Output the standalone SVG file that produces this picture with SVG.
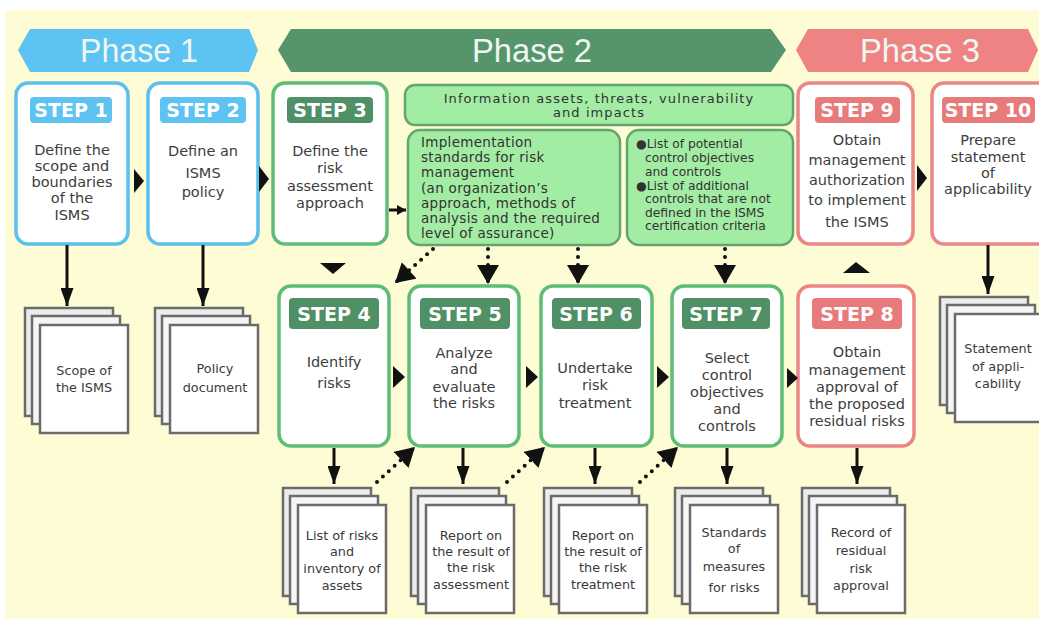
<svg xmlns="http://www.w3.org/2000/svg" width="1039" height="619" viewBox="0 0 1039 619">
<style>
.bg{fill:#fefcd5}
.ph{font-family:"Liberation Sans",Arial,sans-serif;font-size:34px;fill:#eef7f2;text-anchor:middle}
.box{fill:#fff;stroke-width:3.5}
.b-blue{stroke:#5bc0ec}
.b-green{stroke:#5dbd74}
.b-pink{stroke:#e98686}
.l-blue{fill:#5ec3f1}
.l-green{fill:#4f9067}
.l-pink{fill:#e77b7b}
.lbl{font-family:"DejaVu Sans",sans-serif;font-weight:bold;font-size:19px;fill:#fff;text-anchor:middle}
.st{font-family:"DejaVu Sans",sans-serif;font-size:14.5px;fill:#3d3d3d;text-anchor:middle}
.info{fill:#a3eca3;stroke:#62a56f;stroke-width:2.5}
.inf{font-family:"DejaVu Sans",sans-serif;font-size:13px;fill:#333;text-anchor:middle;letter-spacing:1.1px}
.it{font-family:"DejaVu Sans",sans-serif;font-size:13.5px;fill:#333;letter-spacing:0.3px}
.ct{font-family:"DejaVu Sans",sans-serif;font-size:12.3px;fill:#333}
.pg{stroke:#6b6b6b;stroke-width:2.5}
.dt{font-family:"DejaVu Sans",sans-serif;font-size:12.8px;fill:#3a3a3a;text-anchor:middle}
.solid{stroke:#111;stroke-width:3;fill:none}
.dot{stroke:#111;stroke-width:4;fill:none;stroke-dasharray:0 8;stroke-linecap:round}
.tri{fill:#111}
</style>
<defs>
<marker id="ah" markerUnits="userSpaceOnUse" viewBox="0 0 18 13" refX="18" refY="6.5" markerWidth="18" markerHeight="13" orient="auto"><path d="M0,0 L18,6.5 L0,13 z" fill="#111"/></marker>
<marker id="ahb" markerUnits="userSpaceOnUse" viewBox="0 0 19 22" refX="19" refY="11" markerWidth="19" markerHeight="22" orient="auto"><path d="M0,0 L19,11 L0,22 z" fill="#111"/></marker>
<marker id="ahs" markerUnits="userSpaceOnUse" viewBox="0 0 9 10" refX="9" refY="5" markerWidth="9" markerHeight="10" orient="auto"><path d="M0,0 L9,5 L0,10 z" fill="#111"/></marker>
<g id="pages">
<rect class="pg" x="0" y="0" width="88" height="108" fill="#ececec"/>
<rect class="pg" x="7" y="8" width="88" height="108" fill="#f5f5f5"/>
<rect class="pg" x="15" y="17" width="88" height="108" fill="#ffffff"/>
</g>
</defs>

<rect x="0" y="0" width="1039" height="619" fill="#ffffff"/>
<rect class="bg" x="5" y="10" width="1034" height="609"/>

<g id="phase1">
<polygon points="18,50 30,29 249,29 258,50 249,72 30,72" fill="#5cc3f2"/>
<text class="ph" x="139" y="62" textLength="118" lengthAdjust="spacingAndGlyphs">Phase 1</text>
</g>
<g id="phase2">
<polygon points="278,50 291,29 771,29 786,50 771,72 291,72" fill="#56956b"/>
<text class="ph" x="532" y="62" textLength="120" lengthAdjust="spacingAndGlyphs">Phase 2</text>
</g>
<g id="phase3">
<polygon points="796,50 808,29 1028,29 1038,50 1028,72 808,72" fill="#ef8383"/>
<text class="ph" x="920" y="62" textLength="120" lengthAdjust="spacingAndGlyphs">Phase 3</text>
</g>

<g id="step1">
<rect class="box b-blue" x="16" y="83" width="112" height="161" rx="12"/>
<rect class="l-blue" x="30" y="97" width="82" height="26" rx="4"/>
<text class="lbl" x="71" y="117">STEP 1</text>
<text class="st"><tspan x="72" y="155">Define the</tspan><tspan x="72" y="171">scope and</tspan><tspan x="72" y="187">boundaries</tspan><tspan x="72" y="203">of the</tspan><tspan x="72" y="220">ISMS</tspan></text>
</g>
<g id="step2">
<rect class="box b-blue" x="148" y="83" width="110" height="161" rx="12"/>
<rect class="l-blue" x="160" y="97" width="86" height="26" rx="4"/>
<text class="lbl" x="203" y="117">STEP 2</text>
<text class="st"><tspan x="203" y="156">Define an</tspan><tspan x="203" y="178">ISMS</tspan><tspan x="203" y="197">policy</tspan></text>
</g>
<g id="step3">
<rect class="box b-green" x="273" y="83" width="114" height="161" rx="12"/>
<rect class="l-green" x="287" y="97" width="86" height="26" rx="4"/>
<text class="lbl" x="330" y="117">STEP 3</text>
<text class="st"><tspan x="330" y="156">Define the</tspan><tspan x="330" y="173">risk</tspan><tspan x="330" y="191">assessment</tspan><tspan x="330" y="208">approach</tspan></text>
</g>

<g id="info-assets">
<rect class="info" x="405" y="85" width="388" height="40" rx="10"/>
<text class="inf"><tspan x="599" y="103">Information assets, threats, vulnerability</tspan><tspan x="599" y="117">and impacts</tspan></text>
</g>
<g id="impl-standards">
<rect class="info" x="408" y="130" width="212" height="115" rx="12"/>
<text class="it"><tspan x="421" y="147">Implementation</tspan><tspan x="421" y="162">standards for risk</tspan><tspan x="421" y="177">management</tspan><tspan x="421" y="193">(an organization’s</tspan><tspan x="421" y="208">approach, methods of</tspan><tspan x="421" y="223">analysis and the required</tspan><tspan x="421" y="238">level of assurance)</tspan></text>
</g>
<g id="control-lists">
<rect class="info" x="627" y="130" width="166" height="115" rx="12"/>
<text class="ct"><tspan x="636" y="148">●List of potential</tspan><tspan x="645" y="162">control objectives</tspan><tspan x="645" y="176">and controls</tspan><tspan x="636" y="190">●List of additional</tspan><tspan x="645" y="203">controls that are not</tspan><tspan x="645" y="217">defined in the ISMS</tspan><tspan x="645" y="230">certification criteria</tspan></text>
</g>

<g id="step9">
<rect class="box b-pink" x="798" y="83" width="115" height="161" rx="12"/>
<rect class="l-pink" x="815" y="97" width="85" height="26" rx="4"/>
<text class="lbl" x="857" y="117">STEP 9</text>
<text class="st"><tspan x="857" y="145">Obtain</tspan><tspan x="857" y="165">management</tspan><tspan x="857" y="185">authorization</tspan><tspan x="857" y="205">to implement</tspan><tspan x="857" y="227">the ISMS</tspan></text>
</g>
<g id="step10">
<rect class="box b-pink" x="932" y="83" width="120" height="161" rx="12"/>
<rect class="l-pink" x="942" y="97" width="93" height="26" rx="4"/>
<text class="lbl" x="988" y="117">STEP 10</text>
<text class="st"><tspan x="988" y="145">Prepare</tspan><tspan x="988" y="162">statement</tspan><tspan x="988" y="178">of</tspan><tspan x="988" y="194">applicability</tspan></text>
</g>

<g id="step4">
<rect class="box b-green" x="279" y="286" width="110" height="160" rx="12"/>
<rect class="l-green" x="289" y="298" width="90" height="31" rx="4"/>
<text class="lbl" x="334" y="321">STEP 4</text>
<text class="st"><tspan x="334" y="367">Identify</tspan><tspan x="334" y="388">risks</tspan></text>
</g>
<g id="step5">
<rect class="box b-green" x="409" y="286" width="110" height="160" rx="12"/>
<rect class="l-green" x="420" y="298" width="90" height="31" rx="4"/>
<text class="lbl" x="465" y="321">STEP 5</text>
<text class="st"><tspan x="464" y="358">Analyze</tspan><tspan x="464" y="374">and</tspan><tspan x="464" y="392">evaluate</tspan><tspan x="464" y="408">the risks</tspan></text>
</g>
<g id="step6">
<rect class="box b-green" x="541" y="286" width="111" height="160" rx="12"/>
<rect class="l-green" x="552" y="298" width="89" height="31" rx="4"/>
<text class="lbl" x="596" y="321">STEP 6</text>
<text class="st"><tspan x="595" y="373">Undertake</tspan><tspan x="595" y="390">risk</tspan><tspan x="595" y="408">treatment</tspan></text>
</g>
<g id="step7">
<rect class="box b-green" x="672" y="286" width="110" height="160" rx="12"/>
<rect class="l-green" x="682" y="298" width="88" height="31" rx="4"/>
<text class="lbl" x="726" y="321">STEP 7</text>
<text class="st"><tspan x="727" y="363">Select</tspan><tspan x="727" y="380">control</tspan><tspan x="727" y="397">objectives</tspan><tspan x="727" y="414">and</tspan><tspan x="727" y="431">controls</tspan></text>
</g>
<g id="step8">
<rect class="box b-pink" x="798" y="286" width="116" height="160" rx="12"/>
<rect class="l-pink" x="812" y="298" width="90" height="31" rx="4"/>
<text class="lbl" x="857" y="321">STEP 8</text>
<text class="st"><tspan x="857" y="357">Obtain</tspan><tspan x="857" y="375">management</tspan><tspan x="857" y="392">approval of</tspan><tspan x="857" y="409">the proposed</tspan><tspan x="857" y="426">residual risks</tspan></text>
</g>

<g id="doc-scope">
<use href="#pages" x="25" y="308"/>
<text class="dt"><tspan x="84" y="375">Scope of</tspan><tspan x="84" y="392">the ISMS</tspan></text>
</g>
<g id="doc-policy">
<use href="#pages" x="155" y="308"/>
<text class="dt"><tspan x="215" y="373">Policy</tspan><tspan x="215" y="392">document</tspan></text>
</g>
<g id="doc-statement">
<use href="#pages" x="940" y="297"/>
<text class="dt"><tspan x="998" y="353">Statement</tspan><tspan x="998" y="371">of appli-</tspan><tspan x="998" y="388">cability</tspan></text>
</g>
<g id="doc-risks">
<use href="#pages" x="283" y="488"/>
<text class="dt"><tspan x="342" y="540">List of risks</tspan><tspan x="342" y="556">and</tspan><tspan x="342" y="573">inventory of</tspan><tspan x="342" y="590">assets</tspan></text>
</g>
<g id="doc-assessment">
<use href="#pages" x="411" y="488"/>
<text class="dt"><tspan x="471" y="540">Report on</tspan><tspan x="471" y="556">the result of</tspan><tspan x="471" y="572">the risk</tspan><tspan x="471" y="589">assessment</tspan></text>
</g>
<g id="doc-treatment">
<use href="#pages" x="544" y="488"/>
<text class="dt"><tspan x="603" y="540">Report on</tspan><tspan x="603" y="556">the result of</tspan><tspan x="603" y="572">the risk</tspan><tspan x="603" y="589">treatment</tspan></text>
</g>
<g id="doc-standards">
<use href="#pages" x="675" y="488"/>
<text class="dt"><tspan x="734" y="537">Standards</tspan><tspan x="734" y="553">of</tspan><tspan x="734" y="571">measures</tspan><tspan x="734" y="592">for risks</tspan></text>
</g>
<g id="doc-record">
<use href="#pages" x="802" y="488"/>
<text class="dt"><tspan x="861" y="537">Record of</tspan><tspan x="861" y="555">residual</tspan><tspan x="861" y="573">risk</tspan><tspan x="861" y="590">approval</tspan></text>
</g>

<g id="connectors">
<path class="solid" d="M67,245 L67,306" marker-end="url(#ah)"/>
<path class="solid" d="M203,245 L203,306" marker-end="url(#ah)"/>
<path class="solid" d="M988,245 L988,294" marker-end="url(#ah)"/>
<path class="solid" d="M334,448 L334,484" marker-end="url(#ah)"/>
<path class="solid" d="M463,448 L463,484" marker-end="url(#ah)"/>
<path class="solid" d="M595,448 L595,484" marker-end="url(#ah)"/>
<path class="solid" d="M727,448 L727,484" marker-end="url(#ah)"/>
<path class="solid" d="M857,448 L857,484" marker-end="url(#ah)"/>
<path class="solid" d="M389,210 L406,210" marker-end="url(#ahs)"/>
<path class="dot" d="M433,249 L395,283" marker-end="url(#ahb)"/>
<path class="dot" d="M488,249 L488,284" marker-end="url(#ahb)"/>
<path class="dot" d="M578,249 L578,284" marker-end="url(#ahb)"/>
<path class="dot" d="M725,249 L725,284" marker-end="url(#ahb)"/>
<path class="dot" d="M377,482 L415,447" marker-end="url(#ahb)"/>
<path class="dot" d="M507,482 L545,447" marker-end="url(#ahb)"/>
<path class="dot" d="M640,482 L678,447" marker-end="url(#ahb)"/>
<polygon class="tri" points="134,169 144,181 134,193"/>
<polygon class="tri" points="259,166 269,179 259,192"/>
<polygon class="tri" points="917,165 927,178 917,191"/>
<polygon class="tri" points="393,366 405,377 393,388"/>
<polygon class="tri" points="526,366 538,377 526,388"/>
<polygon class="tri" points="657,366 669,377 657,388"/>
<polygon class="tri" points="787,368 798,378 787,388"/>
<polygon class="tri" points="320,263 346,263 333,274"/>
<polygon class="tri" points="843,273 870,273 856,262"/>
</g>
</svg>
